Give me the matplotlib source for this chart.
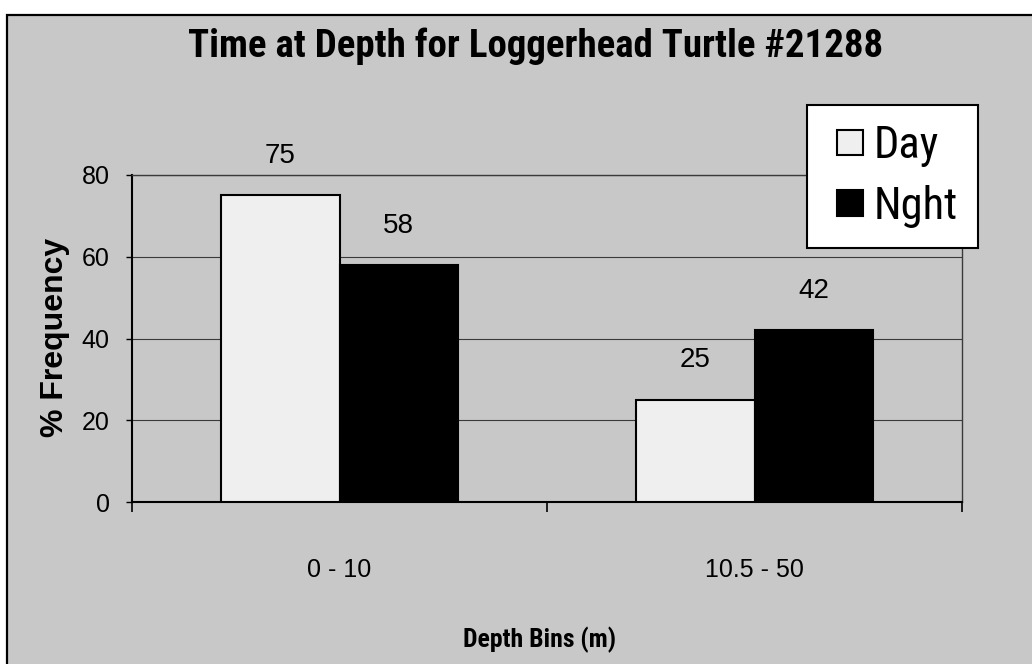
import matplotlib
matplotlib.use("Agg")
import numpy as np
import matplotlib.pyplot as plt
from matplotlib import font_manager
from matplotlib.patches import Rectangle
from matplotlib.container import BarContainer
from matplotlib.legend_handler import HandlerPatch

# data
depth_bins = ["0 - 10", "10.5 - 50"]
day_pct = [75, 25]
night_pct = [58, 42]
series_names = ["Day", "Nght"]
y_ticks = [0, 20, 40, 60, 80]

# narrow face for headings and legend (first one that is installed)
installed = {f.name for f in font_manager.fontManager.ttflist}
NARROW = next((n for n in ["Liberation Sans Narrow", "Arial Narrow", "Roboto Condensed",
                           "PT Sans Narrow", "Fira Sans Condensed", "Archivo Narrow"]
               if n in installed), "Liberation Sans")
REGULAR = "Liberation Sans"

BG = "#c8c8c8"
DAY_FILL = "#efefef"
GRID = "#3a3a3a"


def square_key(legend, orig_handle, xdescent, ydescent, width, height, fontsize):
    # square swatch pushed to the right end of the handle box
    return Rectangle((-xdescent + width - height, -ydescent), height, height)


square_handler = HandlerPatch(patch_func=square_key,
                              update_func=lambda h, o: h.update_from(o.patches[0]))

fig = plt.figure(figsize=(10.32, 6.64), dpi=100)
fig.patch.set_facecolor("white")

# chart area frame
fig.patches.append(Rectangle((7 / 1032, -0.05), 1.1, 1.05 - 15 / 664,
                             transform=fig.transFigure, facecolor=BG,
                             edgecolor="black", linewidth=1.6, zorder=-5))

ax = fig.add_axes([132 / 1032, 1 - 502 / 664, 830 / 1032, 327 / 664])
ax.set_zorder(2)
ax.set_facecolor(BG)

x = np.arange(len(depth_bins))
w = 0.285
day_bars = ax.bar(x - w / 2, day_pct, w, color=DAY_FILL, edgecolor="black",
                  linewidth=1.5, label=series_names[0], zorder=3)
night_bars = ax.bar(x + w / 2, night_pct, w, color="black", edgecolor="black",
                    linewidth=1.5, label=series_names[1], zorder=3)

for bars, vals in [(day_bars, day_pct), (night_bars, night_pct)]:
    for b, v in zip(bars, vals):
        ax.annotate(f"{v}", (b.get_x() + b.get_width() / 2, v),
                    xytext=(0, 19), textcoords="offset points",
                    ha="center", va="bottom", fontsize=20, family=REGULAR)

ax.set_xlim(-0.5, 1.5)
ax.set_ylim(0, 80)
ax.set_yticks(y_ticks)
ax.set_yticklabels([str(t) for t in y_ticks], fontsize=18, family=REGULAR)
ax.yaxis.grid(True, color=GRID, linewidth=0.8)
ax.set_axisbelow(True)

ax.set_xticks(x)
ax.set_xticklabels(depth_bins, fontsize=18, family=REGULAR)
ax.set_xticks([-0.5, 0.5, 1.5], minor=True)
ax.tick_params(axis="x", which="major", length=0, pad=40)
ax.tick_params(axis="x", which="minor", length=7, width=1.2, direction="out")
ax.tick_params(axis="y", length=4, width=1, pad=12, direction="out")

for s in ["left", "bottom"]:
    ax.spines[s].set_color("black")
    ax.spines[s].set_linewidth(1.5)
for s in ["top", "right"]:
    ax.spines[s].set_color(GRID)
    ax.spines[s].set_linewidth(1.0)

fig.text(536 / 1032, 1 - 46 / 664, "Time at Depth for Loggerhead Turtle #21288",
         ha="center", va="center", fontsize=28, fontweight="bold", family=NARROW)
fig.text(55 / 1032, 1 - 337 / 664, "% Frequency", rotation=90,
         ha="center", va="center", fontsize=23, fontweight="bold", family=REGULAR)
fig.text(540 / 1032, 1 - 640 / 664, "Depth Bins (m)",
         ha="center", va="center", fontsize=18.5, fontweight="bold", family=NARROW)

leg = ax.legend(loc="upper left", bbox_to_anchor=(807 / 1032, 1 - 105 / 664),
                bbox_transform=fig.transFigure, fancybox=False, framealpha=1,
                edgecolor="black", facecolor="white",
                prop={"family": NARROW, "size": 32},
                handler_map={BarContainer: square_handler},
                handlelength=0.8, handleheight=0.5, handletextpad=0.25,
                labelspacing=0.4, borderpad=0.45, borderaxespad=0)
leg.get_frame().set_linewidth(1.5)

fig.savefig("out.png", dpi=100, facecolor=fig.get_facecolor())
